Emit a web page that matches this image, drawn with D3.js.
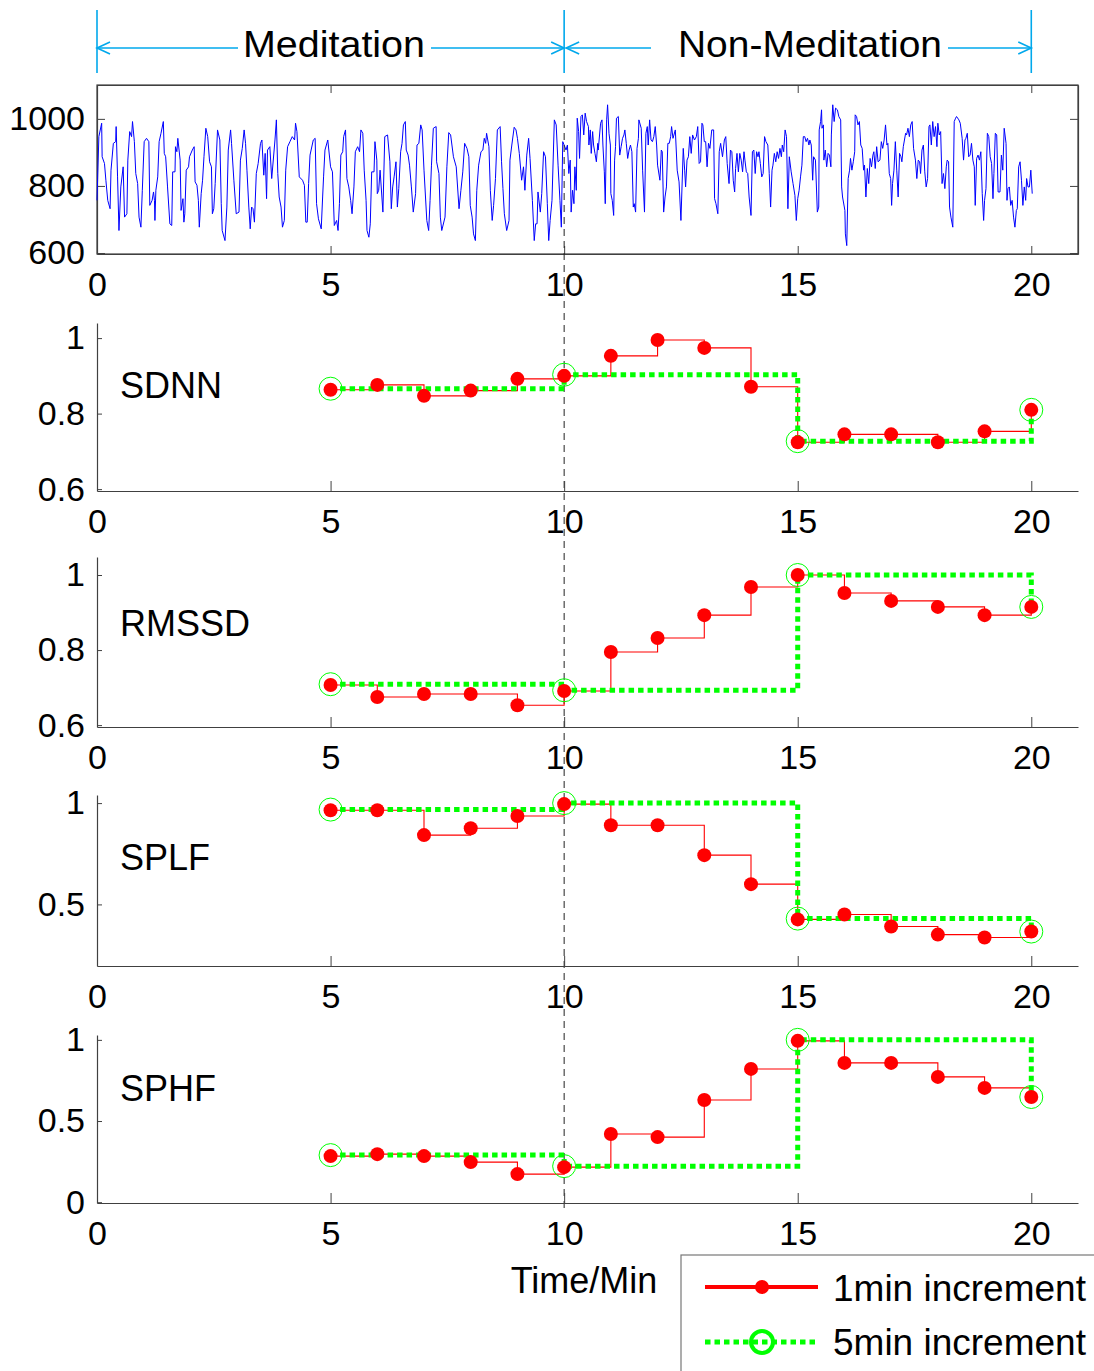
<!DOCTYPE html>
<html><head><meta charset="utf-8">
<script src="https://cdn.jsdelivr.net/npm/d3@7"></script>
<style>
html,body{margin:0;padding:0;background:#fff;}
svg{display:block;}
text{font-family:"Liberation Sans",Arial,sans-serif;fill:#000;}
</style></head>
<body><svg id="chart" width="1094" height="1371"></svg>
<script>
// ---------- data ----------
const minutes1 = [5,6,7,8,9,10,11,12,13,14,15,16,17,18,19,20];
const minutes5 = [5,10,15,20];
const sdnn1  = [0.863,0.876,0.847,0.861,0.892,0.900,0.953,0.995,0.974,0.871,0.724,0.745,0.745,0.724,0.753,0.810];
const sdnn5  = [0.866,0.903,0.727,0.810];
const rmssd1 = [0.707,0.675,0.683,0.683,0.653,0.691,0.795,0.832,0.893,0.968,1.000,0.952,0.931,0.915,0.893,0.915];
const rmssd5 = [0.709,0.693,1.000,0.915];
const splf1  = [0.965,0.965,0.842,0.876,0.936,0.995,0.891,0.891,0.743,0.600,0.426,0.450,0.391,0.351,0.337,0.366];
const splf5  = [0.968,1.000,0.430,0.366];
const sphf1  = [0.284,0.296,0.284,0.247,0.173,0.216,0.420,0.401,0.630,0.821,0.994,0.858,0.858,0.772,0.704,0.648];
const sphf5  = [0.290,0.222,1.000,0.648];
const xTicks = [0,5,10,15,20];
const rrTicks = [600,800,1000];
const phaseLabels = ["Meditation","Non-Meditation"];
const legendLabels = ["1min increment","5min increment"];
const panelLabels = ["SDNN","RMSSD","SPLF","SPHF"];
// RR interval trace [minute, ms]
const rrSamples = [
[0.00,757],[0.04,947],[0.10,987],[0.11,887],[0.16,867],[0.19,817],[0.23,757],[0.28,732],[0.30,847],[0.35,927],[0.40,932],[0.41,977],[0.44,827],[0.47,667],[0.51,797],[0.56,857],[0.59,707],[0.64,717],[0.66,877],[0.70,962],[0.74,947],[0.76,992],[0.80,932],[0.83,837],[0.87,807],[0.90,707],[0.94,677],[0.97,787],[1.01,932],[1.06,942],[1.11,932],[1.13,742],[1.18,757],[1.21,782],[1.23,757],[1.24,697],[1.26,787],[1.30,827],[1.33,932],[1.37,957],[1.42,992],[1.44,897],[1.47,887],[1.51,797],[1.56,687],[1.60,682],[1.62,842],[1.67,842],[1.68,917],[1.71,902],[1.73,942],[1.78,877],[1.80,727],[1.84,762],[1.86,692],[1.88,717],[1.91,847],[1.96,857],[1.98,887],[2.04,907],[2.08,917],[2.10,812],[2.14,802],[2.17,757],[2.19,677],[2.23,777],[2.26,817],[2.29,887],[2.33,972],[2.37,947],[2.41,872],[2.45,857],[2.47,717],[2.50,732],[2.53,807],[2.58,967],[2.63,937],[2.66,747],[2.68,667],[2.74,637],[2.78,737],[2.81,907],[2.86,967],[2.88,927],[2.93,817],[2.98,717],[3.04,722],[3.07,877],[3.11,912],[3.15,967],[3.18,927],[3.21,847],[3.25,737],[3.28,672],[3.31,737],[3.34,732],[3.37,692],[3.41,837],[3.45,867],[3.50,927],[3.53,937],[3.57,832],[3.60,897],[3.63,762],[3.65,907],[3.70,917],[3.74,822],[3.81,937],[3.84,997],[3.87,837],[3.90,767],[3.94,737],[3.97,677],[4.01,697],[4.04,847],[4.08,917],[4.13,932],[4.18,947],[4.23,937],[4.25,987],[4.28,962],[4.33,827],[4.40,817],[4.44,802],[4.47,692],[4.50,692],[4.53,807],[4.56,892],[4.63,937],[4.67,942],[4.70,747],[4.74,702],[4.80,672],[4.83,767],[4.85,827],[4.88,907],[4.94,937],[5.00,857],[5.04,842],[5.08,682],
[5.13,697],[5.16,667],[5.19,747],[5.22,892],[5.26,902],[5.28,947],[5.32,967],[5.35,822],[5.39,797],[5.43,757],[5.46,717],[5.50,797],[5.53,902],[5.58,917],[5.62,902],[5.65,967],[5.69,957],[5.72,847],[5.76,757],[5.78,667],[5.82,647],[5.85,687],[5.88,842],[5.93,842],[5.95,932],[5.99,877],[6.00,777],[6.03,787],[6.06,847],[6.12,722],[6.16,947],[6.22,952],[6.27,872],[6.30,732],[6.33,797],[6.36,827],[6.40,872],[6.43,737],[6.46,792],[6.50,902],[6.53,927],[6.56,982],[6.60,992],[6.62,907],[6.66,892],[6.69,862],[6.73,797],[6.77,722],[6.82,777],[6.85,922],[6.89,927],[6.93,982],[6.96,967],[7.00,847],[7.06,697],[7.10,667],[7.13,757],[7.16,862],[7.20,972],[7.26,977],[7.27,872],[7.32,837],[7.35,707],[7.38,667],[7.45,707],[7.49,857],[7.53,959],[7.57,952],[7.63,887],[7.69,857],[7.75,732],[7.79,787],[7.83,842],[7.87,927],[7.92,912],[7.96,887],[7.99,742],[8.03,707],[8.06,657],[8.10,637],[8.13,787],[8.17,862],[8.22,902],[8.26,907],[8.29,942],[8.32,927],[8.34,957],[8.39,917],[8.42,787],[8.46,697],[8.49,742],[8.53,822],[8.57,967],[8.63,977],[8.66,872],[8.69,792],[8.72,717],[8.77,667],[8.82,697],[8.84,877],[8.88,922],[8.93,975],[8.97,967],[9.00,942],[9.04,897],[9.09,817],[9.13,857],[9.16,787],[9.20,892],[9.24,942],[9.27,882],[9.32,757],[9.36,637],[9.39,687],[9.42,687],[9.44,782],[9.49,722],[9.52,777],[9.56,902],[9.60,887],[9.64,747],[9.67,637],[9.70,697],[9.74,757],[9.79,997],[9.83,982],[9.87,862],[9.91,757],[9.94,677],[9.97,932],[10.00,922],[10.04,907],[10.07,922],[10.10,837],[10.13,877],
[10.15,722],[10.18,787],[10.21,747],[10.23,857],[10.26,787],[10.28,1002],[10.31,962],[10.33,882],[10.36,1007],[10.39,1012],[10.42,952],[10.45,1017],[10.48,992],[10.52,977],[10.53,922],[10.56,967],[10.58,897],[10.61,962],[10.63,922],[10.66,897],[10.69,872],[10.72,927],[10.73,907],[10.78,987],[10.81,997],[10.83,922],[10.86,842],[10.88,747],[10.91,997],[10.93,1042],[10.96,957],[10.99,922],[11.00,777],[11.03,757],[11.06,712],[11.08,877],[11.10,917],[11.12,1002],[11.16,1007],[11.19,892],[11.22,917],[11.25,942],[11.28,952],[11.30,967],[11.33,927],[11.36,882],[11.39,907],[11.42,922],[11.45,902],[11.48,737],[11.50,747],[11.53,722],[11.56,912],[11.59,942],[11.60,997],[11.65,972],[11.68,847],[11.72,722],[11.75,957],[11.78,977],[11.80,922],[11.83,997],[11.86,937],[11.89,932],[11.92,947],[11.95,977],[11.98,922],[12.00,862],[12.05,817],[12.08,907],[12.10,902],[12.13,722],[12.16,767],[12.19,797],[12.22,927],[12.25,927],[12.28,947],[12.30,977],[12.33,942],[12.38,967],[12.42,847],[12.46,812],[12.50,697],[12.55,912],[12.58,847],[12.60,797],[12.63,877],[12.66,887],[12.69,947],[12.72,897],[12.75,952],[12.79,937],[12.83,947],[12.86,977],[12.89,867],[12.92,872],[12.95,987],[12.97,982],[13.00,932],[13.03,932],[13.06,857],[13.09,927],[13.12,912],[13.16,967],[13.20,967],[13.22,762],[13.25,747],[13.29,717],[13.32,902],[13.35,927],[13.39,887],[13.43,937],[13.46,947],[13.49,867],[13.53,807],[13.56,907],[13.59,902],[13.62,817],[13.65,782],[13.67,852],[13.70,897],[13.73,842],[13.76,897],[13.79,877],[13.82,842],[13.85,902],[13.87,877],[13.90,842],[13.93,837],[13.96,767],[14.00,712],[14.03,902],[14.06,907],[14.09,837],[14.12,902],[14.15,887],[14.17,902],[14.20,867],[14.23,827],[14.26,837],[14.29,947],[14.32,932],[14.36,922],[14.39,837],[14.42,737],[14.45,847],[14.47,862],[14.50,897],[14.53,872],[14.56,902],[14.59,882],[14.62,912],[14.65,887],[14.67,922],[14.70,902],[14.73,967],[14.76,947],[14.79,732],[14.82,887],[14.86,842],[14.90,807],[14.94,772],[14.97,697],[15.00,762],[15.03,787],[15.06,827],[15.09,862],[15.12,947],
[15.15,947],[15.18,932],[15.21,942],[15.24,922],[15.26,937],[15.29,922],[15.32,817],[15.34,887],[15.38,877],[15.42,722],[15.45,737],[15.46,967],[15.49,992],[15.51,1027],[15.52,972],[15.55,982],[15.56,877],[15.59,907],[15.62,857],[15.65,897],[15.68,892],[15.71,857],[15.72,952],[15.75,1042],[15.78,992],[15.81,1032],[15.85,1027],[15.88,1007],[15.92,997],[15.94,797],[15.96,767],[16.01,727],[16.02,657],[16.05,622],[16.08,822],[16.11,847],[16.13,882],[16.16,847],[16.19,872],[16.22,902],[16.23,1012],[16.26,1007],[16.29,982],[16.32,992],[16.35,922],[16.38,912],[16.41,847],[16.43,862],[16.46,767],[16.49,852],[16.52,807],[16.55,882],[16.58,857],[16.61,892],[16.63,902],[16.66,852],[16.69,917],[16.72,872],[16.76,877],[16.79,932],[16.82,912],[16.85,937],[16.88,982],[16.91,922],[16.93,927],[16.96,837],[16.99,822],[17.01,742],[17.03,807],[17.06,847],[17.09,932],[17.12,847],[17.15,767],[17.18,897],[17.21,887],[17.23,872],[17.26,917],[17.31,957],[17.33,952],[17.36,972],[17.39,947],[17.42,982],[17.45,992],[17.48,912],[17.52,877],[17.55,822],[17.58,877],[17.61,872],[17.63,837],[17.66,907],[17.69,922],[17.72,842],[17.75,797],[17.78,822],[17.81,977],[17.83,982],[17.86,922],[17.89,992],[17.92,947],[17.95,977],[17.98,917],[18.00,987],[18.03,952],[18.06,962],[18.09,807],[18.12,837],[18.15,792],[18.18,857],[18.20,877],[18.23,872],[18.25,737],[18.28,707],[18.32,677],[18.35,992],[18.38,1002],[18.40,1007],[18.45,997],[18.48,987],[18.52,942],[18.55,877],[18.58,937],[18.60,942],[18.63,957],[18.66,887],[18.69,892],[18.72,927],[18.75,877],[18.78,857],[18.80,742],[18.83,882],[18.86,892],[18.89,877],[18.92,902],[18.95,777],[18.98,697],[19.00,757],[19.03,792],[19.06,957],[19.09,947],[19.12,887],[19.15,867],[19.18,762],[19.20,837],[19.23,957],[19.26,952],[19.29,782],[19.33,782],[19.36,892],[19.39,847],[19.42,972],[19.46,927],[19.48,757],[19.50,792],[19.53,797],[19.56,742],[19.59,757],[19.62,707],[19.65,677],[19.68,727],[19.70,732],[19.73,857],[19.76,872],[19.79,817],[19.82,742],[19.85,797],[19.88,757],[19.90,822],[19.93,797],[19.96,797],[19.99,847],[20.02,777]
];

// ---------- layout ----------
const svg = d3.select("#chart");
const W = 1094, H = 1371;
svg.append("rect").attr("width",W).attr("height",H).attr("fill","#fff");
const x = d3.scaleLinear().domain([0,21]).range([97,1078]);
const FS = 34;
const RED = "#ff0000", GREEN = "#00ff00", BLUE = "#0000ff", CYAN = "#00a8ec", AX = "#404040";

function styleAxis(g){
  g.selectAll("path.domain").attr("stroke",AX).attr("stroke-width",1.2);
  g.selectAll(".tick line").attr("stroke",AX).attr("stroke-width",1);
  g.selectAll("text").attr("font-size",FS).attr("font-family",'"Liberation Sans",Arial,sans-serif').attr("fill","#000");
}

// ---------- top RR panel ----------
const yRR = d3.scaleLinear().domain([597,1101]).range([254,85]);
svg.append("rect").attr("x",97).attr("y",85).attr("width",1078-97).attr("height",254-85)
  .attr("fill","none").attr("stroke",AX).attr("stroke-width",1.2);
svg.append("g").attr("transform","translate(0,254)")
  .call(d3.axisBottom(x).tickValues(xTicks).tickSizeInner(-8).tickSizeOuter(0).tickPadding(18).tickFormat(d3.format("d")))
  .call(styleAxis);
svg.append("g").attr("transform","translate(0,85)")
  .call(d3.axisTop(x).tickValues(xTicks).tickSizeInner(-8).tickSizeOuter(0).tickFormat(""))
  .call(styleAxis);
svg.append("g").attr("transform","translate(97,0)")
  .call(d3.axisLeft(yRR).tickValues(rrTicks).tickSizeInner(-8).tickSizeOuter(0).tickPadding(12).tickFormat(d3.format("d")))
  .call(styleAxis);
svg.append("g").attr("transform","translate(1078,0)")
  .call(d3.axisRight(yRR).tickValues(rrTicks).tickSizeInner(-8).tickSizeOuter(0).tickFormat(""))
  .call(styleAxis);
svg.append("path").datum(rrSamples)
  .attr("d", d3.line().x(d=>x(d[0])).y(d=>yRR(d[1])))
  .attr("fill","none").attr("stroke",BLUE).attr("stroke-width",1);

// ---------- HRV panels ----------
const panels = [
  {label:panelLabels[0], one:sdnn1,  five:sdnn5,  dom:[0.595,1.04], rng:[491,323], ticks:[0.6,0.8,1], fmt:d=>d===1?"1":d3.format(".1f")(d), ly:385},
  {label:panelLabels[1], one:rmssd1, five:rmssd5, dom:[0.595,1.048], rng:[727,557], ticks:[0.6,0.8,1], fmt:d=>d===1?"1":d3.format(".1f")(d), ly:623},
  {label:panelLabels[2], one:splf1,  five:splf5,  dom:[0.196,1.04], rng:[966,795], ticks:[0.5,1], fmt:d=>d===1?"1":d3.format(".1f")(d), ly:857},
  {label:panelLabels[3], one:sphf1,  five:sphf5,  dom:[-0.005,1.03], rng:[1203,1035], ticks:[0,0.5,1], fmt:d=>d===0?"0":d===1?"1":d3.format(".1f")(d), ly:1088}
];

// dashed separator at minute 10
svg.append("line").attr("x1",x(10)).attr("x2",x(10)).attr("y1",85).attr("y2",1212)
  .attr("stroke","#222").attr("stroke-width",1).attr("stroke-dasharray","7,5");

panels.forEach(p=>{
  const y = d3.scaleLinear().domain(p.dom).range(p.rng);
  const bottom = p.rng[0];
  svg.append("g").attr("transform",`translate(0,${bottom})`)
    .call(d3.axisBottom(x).tickValues(xTicks).tickSizeInner(-10).tickSizeOuter(0).tickPadding(18).tickFormat(d3.format("d")))
    .call(styleAxis);
  svg.append("g").attr("transform","translate(97,0)")
    .call(d3.axisLeft(y).tickValues(p.ticks).tickSizeInner(-5).tickSizeOuter(0).tickPadding(12).tickFormat(p.fmt))
    .call(styleAxis);
  svg.append("text").attr("x",120).attr("y",p.ly).attr("dy","0.36em").attr("font-size",36).text(p.label);

  const stepLine = d3.line().curve(d3.curveStepAfter).x(d=>x(d[0])).y(d=>y(d[1]));
  const d1 = minutes1.map((m,i)=>[m,p.one[i]]);
  const d5 = minutes5.map((m,i)=>[m,p.five[i]]);
  svg.append("path").datum(d1).attr("d",stepLine).attr("fill","none").attr("stroke",RED).attr("stroke-width",1.1);
  svg.append("path").datum(d5).attr("d",stepLine).attr("fill","none").attr("stroke",GREEN)
    .attr("stroke-width",5).attr("stroke-dasharray","5.5,4");
  svg.append("g").selectAll("circle").data(d5).join("circle")
    .attr("cx",d=>x(d[0])).attr("cy",d=>y(d[1])).attr("r",11.5)
    .attr("fill","none").attr("stroke",GREEN).attr("stroke-width",1);
  svg.append("g").selectAll("circle").data(d1).join("circle")
    .attr("cx",d=>x(d[0])).attr("cy",d=>y(d[1])).attr("r",7)
    .attr("fill",RED);
});

// ---------- phase annotation ----------
const ann = svg.append("g").attr("stroke",CYAN).attr("stroke-width",1.6).attr("fill","none");
[0,10,20].forEach(m=>ann.append("line").attr("x1",x(m)).attr("x2",x(m)).attr("y1",10).attr("y2",73));
const ay = 48;
function arrowSeg(x1,x2,headAt){
  ann.append("line").attr("x1",x1).attr("x2",x2).attr("y1",ay).attr("y2",ay);
  const hx = headAt==="left"?x1:x2, s = headAt==="left"?1:-1;
  ann.append("path").attr("d",`M${hx+s*13},${ay-6}L${hx},${ay}L${hx+s*13},${ay+6}`);
}
arrowSeg(x(0),238,"left");
arrowSeg(431,x(10),"right");
arrowSeg(x(10)+2,651,"left");
arrowSeg(948,x(20),"right");
svg.append("text").attr("x",334).attr("y",57).attr("text-anchor","middle")
  .attr("font-size",37).attr("textLength",182).attr("lengthAdjust","spacingAndGlyphs").text(phaseLabels[0]);
svg.append("text").attr("x",810).attr("y",57).attr("text-anchor","middle")
  .attr("font-size",37).attr("textLength",264).attr("lengthAdjust","spacingAndGlyphs").text(phaseLabels[1]);

// ---------- x label ----------
svg.append("text").attr("x",584).attr("y",1280).attr("dy","0.36em").attr("text-anchor","middle")
  .attr("font-size",36).text("Time/Min");

// ---------- legend ----------
const lg = svg.append("g");
lg.append("rect").attr("x",681).attr("y",1255).attr("width",440).attr("height",140)
  .attr("fill","#fff").attr("stroke","#777").attr("stroke-width",1.2);
lg.append("line").attr("x1",705).attr("x2",818).attr("y1",1287).attr("y2",1287).attr("stroke",RED).attr("stroke-width",4);
lg.append("circle").attr("cx",762).attr("cy",1287).attr("r",7).attr("fill",RED);
lg.append("line").attr("x1",705).attr("x2",818).attr("y1",1342).attr("y2",1342).attr("stroke",GREEN)
  .attr("stroke-width",5).attr("stroke-dasharray","5.5,4");
lg.append("circle").attr("cx",762).attr("cy",1342).attr("r",11).attr("fill","none").attr("stroke",GREEN).attr("stroke-width",4);
lg.append("text").attr("x",833).attr("y",1288).attr("dy","0.36em").attr("font-size",37).text(legendLabels[0]);
lg.append("text").attr("x",833).attr("y",1342).attr("dy","0.36em").attr("font-size",37).text(legendLabels[1]);
</script></body></html>
